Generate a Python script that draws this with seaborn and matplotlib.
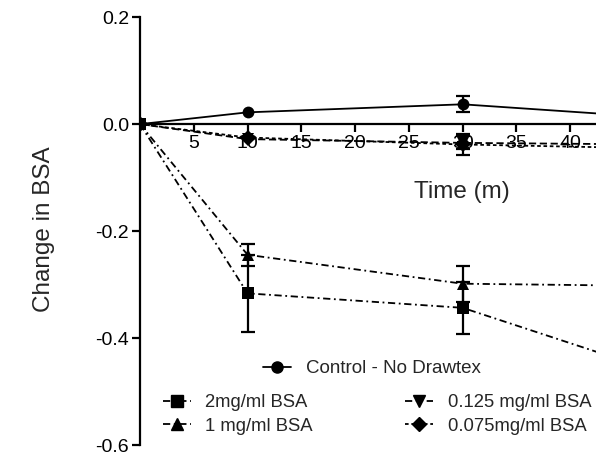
import numpy as np
import pandas as pd
import seaborn as sns
import matplotlib.pyplot as plt
from matplotlib.lines import Line2D

# --- data ---
time = [0, 10, 30, 60]
series = ["Control - No Drawtex", "2mg/ml BSA", "1 mg/ml BSA",
          "0.125 mg/ml BSA", "0.075mg/ml BSA"]
control = [0.0, 0.022, 0.037, -0.004]
control_err = [0.0, 0.0, 0.015, 0.0]
bsa_2 = [0.0, -0.316, -0.343, -0.541]
bsa_2_err = [0.0, 0.072, 0.048, 0.0]
bsa_1 = [0.0, -0.244, -0.298, -0.305]
bsa_1_err = [0.0, 0.021, 0.034, 0.0]
bsa_0125 = [0.0, -0.028, -0.035, -0.040]
bsa_0125_err = [0.0, 0.0, 0.012, 0.0]
bsa_0075 = [0.0, -0.025, -0.038, -0.050]
bsa_0075_err = [0.0, 0.0, 0.019, 0.0]
x_ticks = [5, 10, 15, 20, 25, 30, 35, 40]
y_ticks = [-0.6, -0.4, -0.2, 0.0, 0.2]

values = [control, bsa_2, bsa_1, bsa_0125, bsa_0075]
errors = [control_err, bsa_2_err, bsa_1_err, bsa_0125_err, bsa_0075_err]

df = pd.DataFrame({
    "Time": np.tile(time, len(series)),
    "Change": np.concatenate(values),
    "Err": np.concatenate(errors),
    "Series": np.repeat(series, len(time)),
})

markers = {series[0]: "o", series[1]: "s", series[2]: "^",
           series[3]: "v", series[4]: "D"}
dashes = {series[0]: "", series[1]: (4, 2, 1, 2), series[2]: (4, 2, 1, 2),
          series[3]: (4, 2), series[4]: (2, 1.5)}
msize = {series[0]: 8, series[1]: 8, series[2]: 8, series[3]: 8, series[4]: 7}

sns.set_style("white")
plt.rcParams["font.family"] = ["Liberation Sans", "DejaVu Sans"]
plt.rcParams["axes.unicode_minus"] = False

fig = plt.figure(figsize=(5.96, 4.55), dpi=100)
ax = fig.add_axes([0.2349, 0.021, 0.7651, 0.9416])

sns.lineplot(data=df, x="Time", y="Change", hue="Series", style="Series",
             palette=["black"] * len(series), markers=markers, dashes=dashes,
             markersize=8.5, linewidth=1.3, markeredgewidth=0,
             legend=False, ax=ax, zorder=3)

for name in series:
    sub = df[df["Series"] == name]
    sub = sub[sub["Err"] > 0]
    ax.errorbar(sub["Time"], sub["Change"], yerr=sub["Err"], fmt="none",
                ecolor="black", elinewidth=1.6, capsize=5, capthick=1.6,
                zorder=4)

ax.set_xlim(0, 42.4)
ax.set_ylim(-0.6, 0.2)
ax.set_xticks(x_ticks)
ax.set_xticklabels([str(t) for t in x_ticks])
ax.set_yticks(y_ticks)
ax.set_yticklabels([f"{v:.1f}" for v in y_ticks])

ax.spines["top"].set_visible(False)
ax.spines["right"].set_visible(False)
ax.spines["bottom"].set_position(("data", 0))
for s in ["left", "bottom"]:
    ax.spines[s].set_linewidth(1.6)
    ax.spines[s].set_color("black")
ax.tick_params(axis="both", direction="out", length=6, width=1.6,
               labelsize=14, colors="black", pad=2)
ax.tick_params(axis="both", left=True, bottom=True)

ax.set_xlabel("Time (m)", fontsize=17.5)
ax.xaxis.set_label_coords(0.706, 0.618)
ax.set_ylabel("Change in BSA", fontsize=17.5)
ax.yaxis.set_label_coords(-0.186, 0.505)

# legends
handles = [Line2D([], [], color="black", marker=markers[n], markersize=msize[n],
                  linewidth=1.3, linestyle=(0, dashes[n]) if dashes[n] else "-")
           for n in series]
leg1 = ax.legend(handles[:1], series[:1], loc="center",
                 bbox_to_anchor=(0.509, 0.179), frameon=False, fontsize=13.5,
                 handlelength=1.5, handletextpad=0.8)
ax.add_artist(leg1)
ax.legend(handles[1:], series[1:],
          ncol=2, loc="center", bbox_to_anchor=(0.52, 0.072), frameon=False,
          fontsize=13.3, handlelength=1.5, handletextpad=0.8,
          columnspacing=5.0, labelspacing=0.35)

fig.savefig("out.png", dpi=100)
